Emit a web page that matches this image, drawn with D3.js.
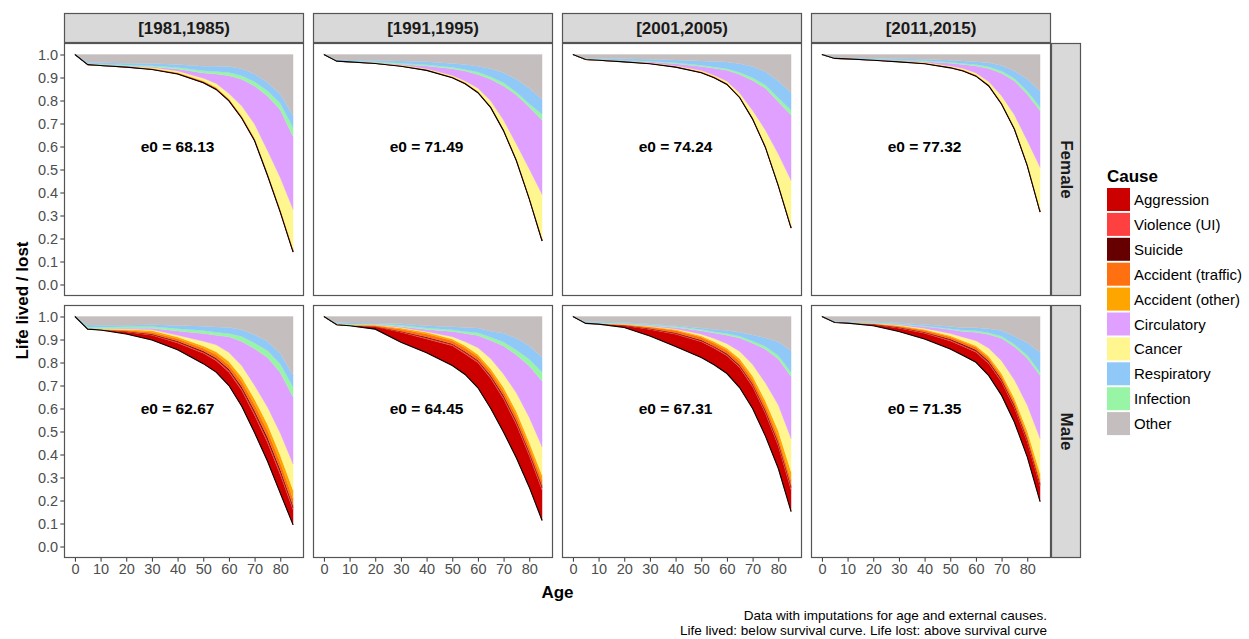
<!DOCTYPE html>
<html>
<head>
<meta charset="utf-8">
<script src="https://cdn.jsdelivr.net/npm/d3@7"></script>
<style>
  body { margin: 0; background: #fff; }
  svg text { font-family: "Liberation Sans", Arial, sans-serif; }
</style>
</head>
<body>
<svg id="chart" width="1249" height="639"></svg>
<script>
const ages = [0, 5, 10, 20, 30, 40, 50, 55, 60, 65, 70, 75, 80, 85];
const periods = ["[1981,1985)", "[1991,1995)", "[2001,2005)", "[2011,2015)"];
const sexes = ["Female", "Male"];
const e0 = [[68.13, 71.49, 74.24, 77.32], [62.67, 64.45, 67.31, 71.35]];
const xTicks = [0, 10, 20, 30, 40, 50, 60, 70, 80];
const yTicks = [0, 0.1, 0.2, 0.3, 0.4, 0.5, 0.6, 0.7, 0.8, 0.9, 1.0];

const legendCauses = ["Aggression", "Violence (UI)", "Suicide", "Accident (traffic)", "Accident (other)",
  "Circulatory", "Cancer", "Respiratory", "Infection", "Other"];
const legendColors = ["#CD0000", "#FF4040", "#660000", "#FF7010", "#FFA500",
  "#E0A0FF", "#FFF68F", "#90C8F8", "#99F5A6", "#C5BEBE"];
// order of the layers from the survival curve up to 1
const stackOrder = ["Aggression", "Violence (UI)", "Suicide", "Accident (traffic)", "Accident (other)",
  "Cancer", "Circulatory", "Infection", "Respiratory", "Other"];

// rows: Female 1981, 1991, 2001, 2011, Male 1981, 1991, 2001, 2011
const survival = [
  [1, .956, .952, .945, .935, .915, .877, .848, .798, .723, .625, .475, .315, .141],
  [1, .971, .968, .961, .949, .931, .899, .873, .834, .769, .668, .538, .372, .189],
  [1, .978, .975, .968, .960, .945, .921, .899, .870, .812, .719, .596, .430, .245],
  [1, .983, .981, .975, .968, .960, .942, .928, .906, .863, .784, .675, .517, .315],
  [1, .945, .941, .924, .898, .855, .795, .758, .700, .610, .495, .372, .232, .094],
  [1, .964, .960, .945, .888, .842, .787, .748, .690, .600, .497, .385, .258, .113],
  [1, .970, .967, .952, .915, .870, .822, .790, .752, .690, .600, .480, .340, .152],
  [1, .974, .971, .960, .935, .902, .859, .830, .801, .743, .657, .540, .390, .195]
];
const aggression = [
  [0, 0, 0, .0005, .001, .0015, .002, .002, .002, .002, .002, .002, .002, .002],
  [0, 0, 0, .0005, .0005, .001, .001, .001, .001, .001, .001, .001, .001, .001],
  [0, 0, 0, .0005, .0005, .001, .001, .001, .001, .001, .001, .001, .001, .001],
  [0, 0, 0, .0005, .0005, .001, .001, .001, .001, .001, .001, .001, .001, .001],
  [0, .0005, .001, .009, .020, .030, .045, .050, .058, .068, .075, .080, .080, .065],
  [0, .0005, .001, .010, .043, .060, .086, .089, .109, .130, .144, .144, .137, .132],
  [0, .0005, .001, .008, .029, .053, .068, .072, .077, .087, .095, .098, .097, .093],
  [0, .0005, .001, .005, .014, .025, .035, .040, .044, .052, .058, .062, .064, .065]
];
const violence = [
  [0, 0, 0, 0, .0005, .0005, .001, .001, .001, .001, .001, .001, .001, .001],
  [0, 0, 0, 0, .0005, .0005, .0005, .0005, .0005, .0005, .0005, .0005, .0005, .0005],
  [0, 0, 0, 0, .0005, .0005, .0005, .0005, .0005, .0005, .0005, .0005, .0005, .0005],
  [0, 0, 0, 0, .0005, .0005, .0005, .0005, .0005, .0005, .0005, .0005, .0005, .0005],
  [0, 0, 0, .0015, .003, .004, .005, .006, .007, .008, .010, .011, .011, .008],
  [0, 0, 0, .001, .003, .005, .005, .006, .006, .007, .008, .009, .009, .010],
  [0, 0, 0, .001, .002, .003, .004, .005, .005, .006, .007, .008, .009, .010],
  [0, 0, 0, .001, .002, .003, .004, .004, .005, .005, .006, .006, .007, .007]
];
const suicide = [
  [0, 0, 0, 0, .0005, .001, .001, .001, .001, .001, .001, .001, .001, .001],
  [0, 0, 0, 0, .0005, .0005, .001, .001, .001, .001, .001, .001, .001, .001],
  [0, 0, 0, 0, .0005, .0005, .001, .001, .001, .001, .001, .001, .001, .001],
  [0, 0, 0, 0, .0005, .0005, .001, .001, .001, .001, .001, .001, .001, .001],
  [0, 0, 0, .0015, .003, .004, .005, .006, .007, .009, .010, .012, .012, .010],
  [0, 0, 0, .001, .002, .004, .004, .005, .005, .006, .007, .008, .008, .009],
  [0, 0, 0, .001, .002, .003, .004, .004, .005, .005, .006, .007, .008, .009],
  [0, 0, 0, .001, .002, .003, .004, .005, .005, .006, .006, .007, .007, .008]
];
const traffic = [
  [0, 0, .0005, .001, .0015, .002, .0025, .003, .003, .0035, .0035, .004, .004, .004],
  [0, 0, .0005, .001, .001, .0015, .0015, .002, .002, .002, .0025, .0025, .0025, .0025],
  [0, 0, .0005, .001, .001, .0015, .0015, .002, .002, .002, .0025, .0025, .0025, .0025],
  [0, 0, .0005, .001, .001, .0015, .0015, .002, .002, .002, .0025, .0025, .0025, .0025],
  [0, .0005, .001, .0045, .008, .010, .012, .015, .017, .022, .026, .029, .030, .030],
  [0, .0005, .001, .004, .009, .013, .013, .015, .015, .017, .019, .021, .021, .022],
  [0, .0005, .001, .003, .006, .010, .012, .013, .014, .016, .017, .019, .021, .023],
  [0, .0005, .001, .002, .005, .007, .009, .010, .011, .012, .013, .014, .015, .016]
];
const accidentOther = [
  [0, .0005, .0005, .001, .0015, .002, .0025, .003, .003, .0035, .0045, .005, .006, .007],
  [0, .0005, .0005, .0005, .0005, .0005, .001, .0015, .0015, .0025, .003, .004, .005, .006],
  [0, .0005, .0005, .0005, .0005, .0005, .001, .0015, .0015, .0025, .003, .004, .005, .006],
  [0, .0005, .0005, .0005, .0005, .0005, .001, .0015, .0015, .0025, .003, .004, .005, .006],
  [0, .001, .0015, .0035, .007, .008, .010, .012, .015, .019, .024, .028, .032, .038],
  [0, .001, .001, .002, .005, .007, .007, .010, .010, .013, .016, .020, .020, .024],
  [0, .001, .001, .001, .002, .004, .005, .007, .009, .012, .016, .021, .028, .038],
  [0, .0005, .0005, .001, .003, .004, .005, .006, .007, .009, .012, .015, .019, .026]
];
const cancer = [
  [0, .0005, .001, .0015, .003, .006, .011, .016, .022, .042, .060, .095, .135, .170],
  [0, .0005, .0005, .0005, .002, .003, .005, .006, .013, .022, .038, .063, .120, .191],
  [0, .0005, .0005, .0005, .001, .002, .004, .005, .008, .013, .030, .066, .127, .196],
  [0, .0005, .0005, .0005, .001, .002, .003, .005, .008, .012, .028, .053, .098, .183],
  [0, .0005, .001, .0015, .003, .007, .020, .030, .040, .050, .060, .075, .095, .113],
  [0, .0005, .0005, .001, .002, .003, .010, .017, .029, .043, .058, .080, .108, .123],
  [0, .0005, .0005, .001, .002, .003, .008, .013, .020, .032, .050, .078, .112, .144],
  [0, .0005, .0005, .001, .002, .004, .010, .015, .022, .035, .055, .080, .112, .152]
];
const circulatory = [
  [0, .001, .001, .002, .004, .009, .023, .041, .078, .116, .166, .237, .296, .316],
  [0, .0005, .0005, .0015, .004, .012, .029, .043, .060, .094, .149, .214, .270, .323],
  [0, .0005, .0005, .0015, .004, .009, .018, .030, .047, .081, .130, .182, .228, .285],
  [0, .0005, .0005, .0005, .002, .004, .012, .017, .030, .057, .098, .148, .202, .246],
  [0, .001, .0015, .0035, .007, .019, .034, .041, .068, .105, .160, .215, .265, .291],
  [0, .0005, .0005, .002, .005, .010, .023, .036, .053, .080, .123, .166, .224, .286],
  [0, .0005, .0005, .002, .003, .006, .015, .024, .037, .058, .093, .147, .200, .270],
  [0, .0005, .0005, .001, .003, .008, .017, .025, .037, .060, .098, .145, .205, .274]
];
const infection = [
  [0, .003, .003, .003, .004, .006, .009, .011, .014, .016, .019, .022, .028, .041],
  [0, .002, .002, .003, .004, .005, .007, .007, .011, .011, .014, .013, .014, .026],
  [0, .0015, .001, .002, .003, .004, .005, .006, .007, .009, .012, .014, .017, .021],
  [0, .0005, .001, .001, .002, .0025, .004, .005, .006, .008, .010, .011, .014, .017],
  [0, .006, .0065, .006, .007, .010, .013, .014, .014, .022, .025, .030, .037, .044],
  [0, .003, .003, .003, .005, .006, .007, .009, .012, .014, .017, .021, .029, .039],
  [0, .002, .002, .002, .003, .004, .005, .006, .007, .008, .010, .012, .015, .019],
  [0, .001, .001, .0015, .002, .003, .004, .005, .006, .007, .009, .010, .012, .015]
];
const respiratory = [
  [0, .005, .006, .008, .010, .014, .020, .023, .026, .030, .033, .036, .040, .050],
  [0, .0025, .004, .006, .010, .013, .016, .022, .025, .035, .044, .055, .067, .065],
  [0, .003, .005, .007, .008, .012, .019, .024, .029, .038, .049, .058, .073, .076],
  [0, .002, .002, .005, .006, .0065, .009, .011, .013, .017, .024, .032, .051, .069],
  [0, .0085, .0085, .007, .008, .014, .019, .022, .026, .029, .036, .040, .045, .050],
  [0, .004, .005, .003, .006, .010, .013, .017, .021, .026, .038, .051, .058, .065],
  [0, .003, .004, .003, .003, .004, .007, .010, .013, .017, .026, .037, .060, .093],
  [0, .002, .003, .004, .005, .006, .009, .011, .013, .018, .025, .035, .055, .086]
];
const other = [
  [0, .034, .036, .038, .039, .043, .051, .051, .052, .062, .085, .122, .172, .267],
  [0, .023, .024, .026, .028, .032, .039, .043, .051, .062, .079, .108, .147, .195],
  [0, .016, .017, .019, .021, .024, .028, .030, .033, .040, .052, .075, .115, .166],
  [0, .013, .014, .016, .018, .021, .025, .028, .031, .036, .048, .072, .108, .159],
  [0, .037, .038, .038, .036, .039, .042, .046, .048, .058, .079, .108, .161, .257],
  [0, .026, .028, .028, .032, .040, .045, .048, .050, .064, .073, .095, .128, .177],
  [0, .022, .023, .026, .033, .040, .050, .056, .061, .069, .080, .093, .110, .149],
  [0, .0205, .0215, .0225, .027, .035, .044, .049, .049, .053, .061, .086, .114, .156]
];

const causeData = {
  "Aggression": aggression,
  "Violence (UI)": violence,
  "Suicide": suicide,
  "Accident (traffic)": traffic,
  "Accident (other)": accidentOther,
  "Cancer": cancer,
  "Circulatory": circulatory,
  "Infection": infection,
  "Respiratory": respiratory,
  "Other": other
};

const svg = d3.select("#chart");
const panelW = 240, panelH = 253, stripH = 30;
const colX = [64, 313, 562, 811];
const rowY = [43, 305];
const borderCol = "#555";

const color = d3.scaleOrdinal().domain(legendCauses).range(legendColors);

const x = d3.scaleLinear().domain([-4.25, 89.25]).range([0, panelW]);
const y = d3.scaleLinear().domain([-0.05, 1.05]).range([panelH, 0]);

const stack = d3.stack().keys(["lived"].concat(stackOrder));
const area = d3.area()
  .x(d => x(d.data.age))
  .y0(d => y(d[0]))
  .y1(d => y(d[1]));
const line = d3.line()
  .x(d => x(d.age))
  .y(d => y(d.lived));

sexes.forEach((sex, r) => {
  periods.forEach((period, c) => {
    const p = r * 4 + c;
    const rows = ages.map((age, i) => {
      const row = { age: age, lived: survival[p][i] };
      stackOrder.forEach(k => { row[k] = causeData[k][p][i]; });
      return row;
    });

    const g = svg.append("g")
      .attr("transform", "translate(" + colX[c] + "," + rowY[r] + ")");

    g.append("rect")
      .attr("width", panelW)
      .attr("height", panelH)
      .attr("fill", "#fff");

    g.selectAll(".layer")
      .data(stack(rows).slice(1))
      .join("path")
        .attr("class", "layer")
        .attr("fill", d => color(d.key))
        .attr("stroke", d => color(d.key))
        .attr("stroke-width", 0.3)
        .attr("d", area);

    g.append("path")
      .datum(rows)
      .attr("fill", "none")
      .attr("stroke", "#000")
      .attr("stroke-width", 1.1)
      .attr("d", line);

    g.append("text")
      .attr("x", x(40))
      .attr("y", y(0.6))
      .attr("text-anchor", "middle")
      .attr("dominant-baseline", "central")
      .attr("font-size", "15.5px")
      .attr("font-weight", "bold")
      .attr("fill", "#000")
      .text("e0 = " + e0[r][c].toFixed(2));

    g.append("rect")
      .attr("x", 0.5)
      .attr("y", 0.5)
      .attr("width", panelW - 1)
      .attr("height", panelH - 1)
      .attr("fill", "none")
      .attr("stroke", borderCol)
      .attr("stroke-width", 1.2);

    if (c === 0) {
      const yAxis = g.append("g")
        .call(d3.axisLeft(y).tickValues(yTicks).tickFormat(d3.format(".1f")).tickSize(3.7).tickPadding(2.2));
      yAxis.select(".domain").remove();
      yAxis.selectAll("line").attr("stroke", "#333");
      yAxis.selectAll("text")
        .attr("fill", "#4D4D4D")
        .attr("font-size", "14.5px")
        .style("font-family", '"Liberation Sans", Arial, sans-serif');
    }
    if (r === 1) {
      const xAxis = g.append("g")
        .attr("transform", "translate(0," + panelH + ")")
        .call(d3.axisBottom(x).tickValues(xTicks).tickSize(3.7).tickPadding(2.2));
      xAxis.select(".domain").remove();
      xAxis.selectAll("line").attr("stroke", "#333");
      xAxis.selectAll("text")
        .attr("fill", "#4D4D4D")
        .attr("font-size", "14.5px")
        .style("font-family", '"Liberation Sans", Arial, sans-serif');
    }
  });
});

// top strips
periods.forEach((period, c) => {
  svg.append("rect")
    .attr("x", colX[c] + 0.5)
    .attr("y", rowY[0] - stripH + 0.5)
    .attr("width", panelW - 1)
    .attr("height", stripH - 1)
    .attr("fill", "#D9D9D9")
    .attr("stroke", borderCol)
    .attr("stroke-width", 1.2);
  svg.append("text")
    .attr("x", colX[c] + panelW / 2)
    .attr("y", rowY[0] - stripH / 2)
    .attr("text-anchor", "middle")
    .attr("dominant-baseline", "central")
    .attr("font-size", "17px")
    .attr("font-weight", "bold")
    .attr("fill", "#1A1A1A")
    .text(period);
});

// right strips
sexes.forEach((sex, r) => {
  const sx = colX[3] + panelW;
  svg.append("rect")
    .attr("x", sx + 0.5)
    .attr("y", rowY[r] + 0.5)
    .attr("width", stripH - 1)
    .attr("height", panelH - 1)
    .attr("fill", "#D9D9D9")
    .attr("stroke", borderCol)
    .attr("stroke-width", 1.2);
  svg.append("text")
    .attr("transform", "translate(" + (sx + stripH / 2) + "," + (rowY[r] + panelH / 2) + ") rotate(90)")
    .attr("text-anchor", "middle")
    .attr("dominant-baseline", "central")
    .attr("font-size", "17px")
    .attr("font-weight", "bold")
    .attr("fill", "#1A1A1A")
    .text(sex);
});

// axis titles
svg.append("text")
  .attr("transform", "translate(22," + ((rowY[0] + rowY[1] + panelH) / 2) + ") rotate(-90)")
  .attr("text-anchor", "middle")
  .attr("dominant-baseline", "central")
  .attr("font-size", "17px")
  .attr("font-weight", "bold")
  .text("Life lived / lost");

svg.append("text")
  .attr("x", (colX[0] + colX[3] + panelW) / 2)
  .attr("y", 592)
  .attr("text-anchor", "middle")
  .attr("dominant-baseline", "central")
  .attr("font-size", "17px")
  .attr("font-weight", "bold")
  .text("Age");

// legend
const legend = svg.append("g").attr("transform", "translate(1107,188)");
legend.append("text")
  .attr("x", 0)
  .attr("y", -6)
  .attr("font-size", "17px")
  .attr("font-weight", "bold")
  .text("Cause");
legendCauses.forEach((cause, i) => {
  legend.append("rect")
    .attr("x", 0)
    .attr("y", i * 24.9)
    .attr("width", 23)
    .attr("height", 23)
    .attr("fill", color(cause));
  legend.append("text")
    .attr("x", 27)
    .attr("y", i * 24.9 + 11.5)
    .attr("dominant-baseline", "central")
    .attr("font-size", "15px")
    .attr("fill", "#000")
    .text(cause);
});

// caption
const captionLines = ["Data with imputations for age and external causes.",
  "Life lived: below survival curve. Life lost: above survival curve"];
captionLines.forEach((t, i) => {
  svg.append("text")
    .attr("x", 1047)
    .attr("y", 620 + i * 14.5)
    .attr("text-anchor", "end")
    .attr("font-size", "13.5px")
    .attr("fill", "#000")
    .text(t);
});
</script>
</body>
</html>
